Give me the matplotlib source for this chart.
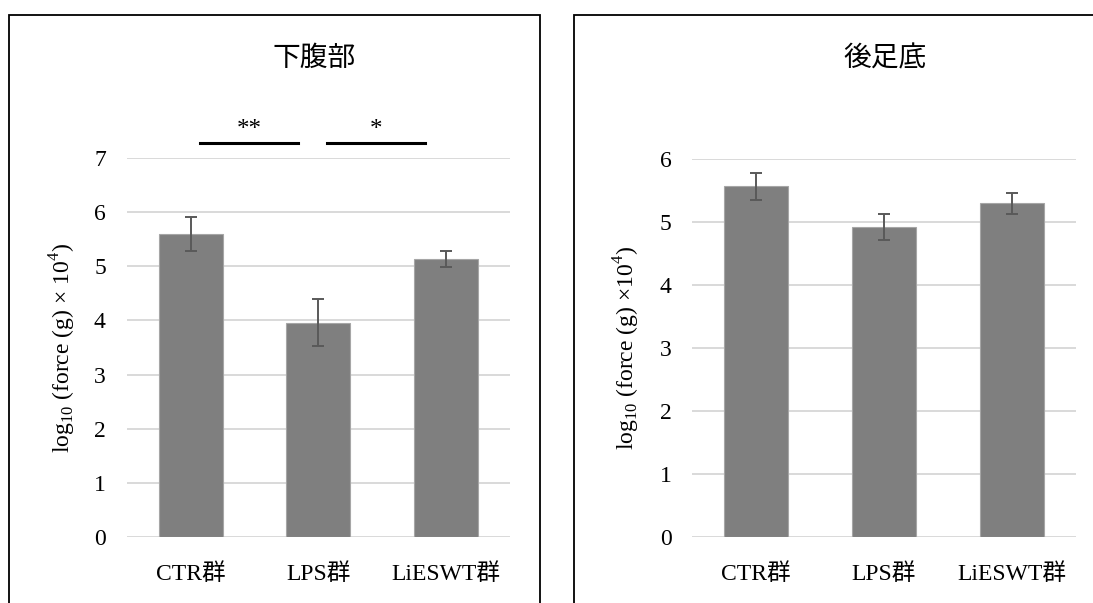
import matplotlib
matplotlib.use("Agg")
import matplotlib.pyplot as plt
from matplotlib.patches import Rectangle

plt.rcParams['font.family'] = ['Liberation Serif', 'Noto Sans CJK JP', 'DejaVu Sans']
plt.rcParams['mathtext.fontset'] = 'custom'
plt.rcParams['mathtext.rm'] = 'Liberation Serif'

groups = ["CTR群", "LPS群", "LiESWT群"]

# 下腹部
abd_mean = [5.60, 3.96, 5.14]
abd_err = [0.32, 0.43, 0.15]
# 後足底
paw_mean = [5.57, 4.92, 5.30]
paw_err = [0.21, 0.21, 0.17]

# significance brackets: (start, end, label)
abd_sig = [(0.074, 0.843, "**"), (1.065, 1.834, "*")]
sig_y = 7.29

bar_color = "#7f7f7f"
err_color = "#595959"
grid_color = "#d9d9d9"

W, H = 1093, 603
fig = plt.figure(figsize=[W / 100, H / 100], dpi=100)

# panel frames
top = 1 - 15 / H
fig.patches.append(Rectangle((8.5 / W, -0.1), 531 / W, top + 0.1, transform=fig.transFigure,
                             fill=False, edgecolor="black", linewidth=1.3, clip_on=False))
fig.patches.append(Rectangle((574 / W, -0.1), 0.6, top + 0.1, transform=fig.transFigure,
                             fill=False, edgecolor="black", linewidth=1.3, clip_on=False))


def draw_panel(ax, means, errs, ymax, ylabel):
    x = range(len(groups))
    ax.bar(x, means, width=0.5, color=bar_color, edgecolor="#a6a6a6", linewidth=0.8, zorder=2)
    ax.errorbar(x, means, yerr=errs, fmt="none", ecolor=err_color, elinewidth=1.4,
                capsize=4.5, capthick=1.4, zorder=3)
    ax.set_xlim(-0.5, 2.5)
    ax.set_ylim(0, ymax)
    ax.set_yticks(range(ymax + 1))
    ax.set_xticks(list(x))
    ax.set_xticklabels(groups)
    ax.grid(axis="y", color=grid_color, linewidth=1.4, zorder=0)
    ax.set_axisbelow(True)
    for s in ax.spines.values():
        s.set_visible(False)
    ax.tick_params(axis="y", length=0, pad=15, labelsize=17)
    ax.tick_params(axis="x", length=0, pad=19, labelsize=17)
    ax.set_ylabel(ylabel, fontsize=17)


ax1 = fig.add_axes([126.7 / W, 1 - 536.7 / H, 383.3 / W, 378.4 / H])
draw_panel(ax1, abd_mean, abd_err, 7, r"log$_{\mathregular{10}}$ (force (g) × 10$^{\mathregular{4}}$)")
ax1.yaxis.set_label_coords(-0.128, 0.5)
for x0, x1, lab in abd_sig:
    ax1.plot([x0, x1], [sig_y, sig_y], color="black", linewidth=2.2, clip_on=False)
    ax1.text((x0 + x1) / 2, sig_y + 0.03, lab, ha="center", va="bottom", fontsize=18)

ax2 = fig.add_axes([692.3 / W, 1 - 536.7 / H, 383.4 / W, 377.4 / H])
draw_panel(ax2, paw_mean, paw_err, 6, r"log$_{\mathregular{10}}$ (force (g) ×10$^{\mathregular{4}}$)")
ax2.yaxis.set_label_coords(-0.13, 0.5)

fig.text(314.5 / W, 1 - 58 / H, "下腹部", ha="center", va="center", fontsize=20,
         family=['Noto Sans CJK JP'])
fig.text(885.5 / W, 1 - 58 / H, "後足底", ha="center", va="center", fontsize=20,
         family=['Noto Sans CJK JP'])

fig.savefig("out.png", dpi=100)
